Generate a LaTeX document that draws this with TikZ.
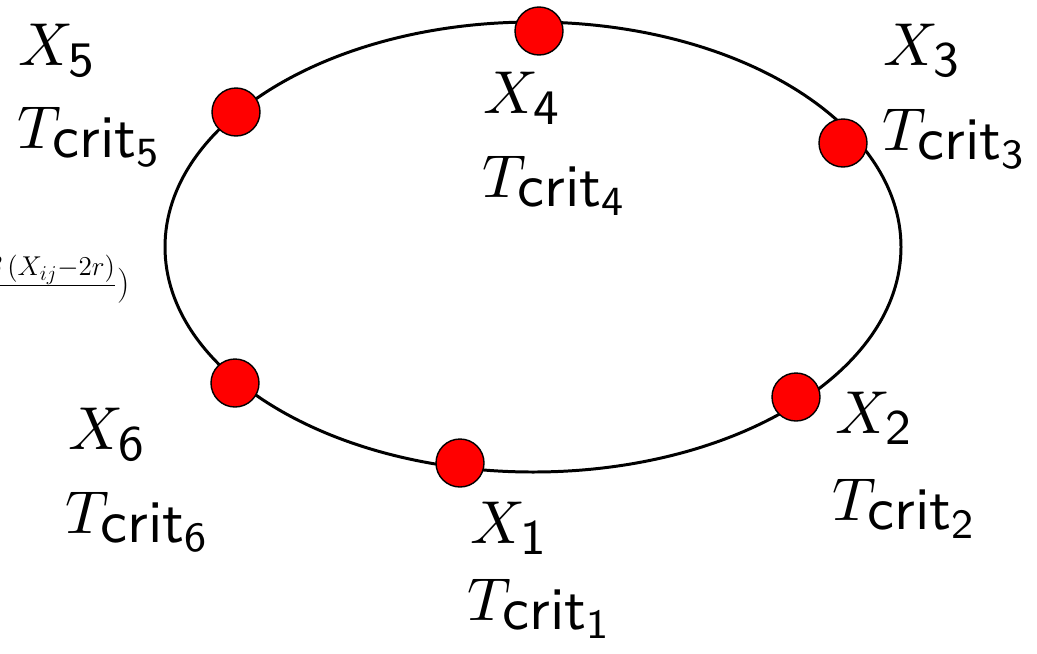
\RequirePackage{fix-cm}
\documentclass[tikz,border=0pt]{standalone}
\DeclareMathSizes{20}{20}{15.5}{12}
\DeclareMathSizes{10.95}{10.95}{9}{7}
\tikzset{
  ring/.style={line width=1.7pt, draw=black},
  dot/.style={circle, fill=red, draw=black, line width=0.8pt, minimum size=48*0.02cm, inner sep=0pt},
  lab/.style={anchor=base west, inner sep=0pt, font=\fontsize{10.95}{13.6}\selectfont},
  formula/.style={anchor=base east, inner sep=0pt, font=\fontsize{20}{24}\selectfont}
}
\newcommand{\xlbl}[1]{\scalebox{3.15}{$X_{\mathsf{#1}}$}}
\newcommand{\tlbl}[1]{\scalebox{3.15}{\makebox[6.39pt][l]{$T$}\raisebox{-1.8pt}{\sffamily crit}\raisebox{-3.3pt}{\fontsize{7.5}{9}\selectfont\sffamily #1}}}
\begin{document}
\begin{tikzpicture}[x=0.02cm, y=-0.02cm]
\useasboundingbox (0,0) rectangle (1037,653);
\clip (0,0) rectangle (1037,653);
\node[formula] (f) at (130,294) {$\bigl(\frac{\ln(2)\,(1-\lambda)\,\beta\,(X_{ij}-2r)}{\sigma}\bigr)$};
\draw[ring] (533,247) ellipse [x radius=368, y radius=225];
\node[dot] (d1) at (460,463) {};
\node[dot] (d2) at (796,397) {};
\node[dot] (d3) at (843,143) {};
\node[dot] (d4) at (539,31) {};
\node[dot] (d5) at (236,112) {};
\node[dot] (d6) at (235,383) {};
\node[lab] (x1) at (470,543) {\xlbl{1}};
\node[lab] (t1) at (467,620) {\tlbl{1}};
\node[lab] (x2) at (835,433) {\xlbl{2}};
\node[lab] (t2) at (832,520) {\tlbl{2}};
\node[lab] (x3) at (883,65) {\xlbl{3}};
\node[lab] (t3) at (882,150) {\tlbl{3}};
\node[lab] (x4) at (483,113) {\xlbl{4}};
\node[lab] (t4) at (482,197) {\tlbl{4}};
\node[lab] (x5) at (18,65) {\xlbl{5}};
\node[lab] (t5) at (17,148) {\tlbl{5}};
\node[lab] (x6) at (68,449) {\xlbl{6}};
\node[lab] (t6) at (65,533) {\tlbl{6}};
\end{tikzpicture}
\end{document}
